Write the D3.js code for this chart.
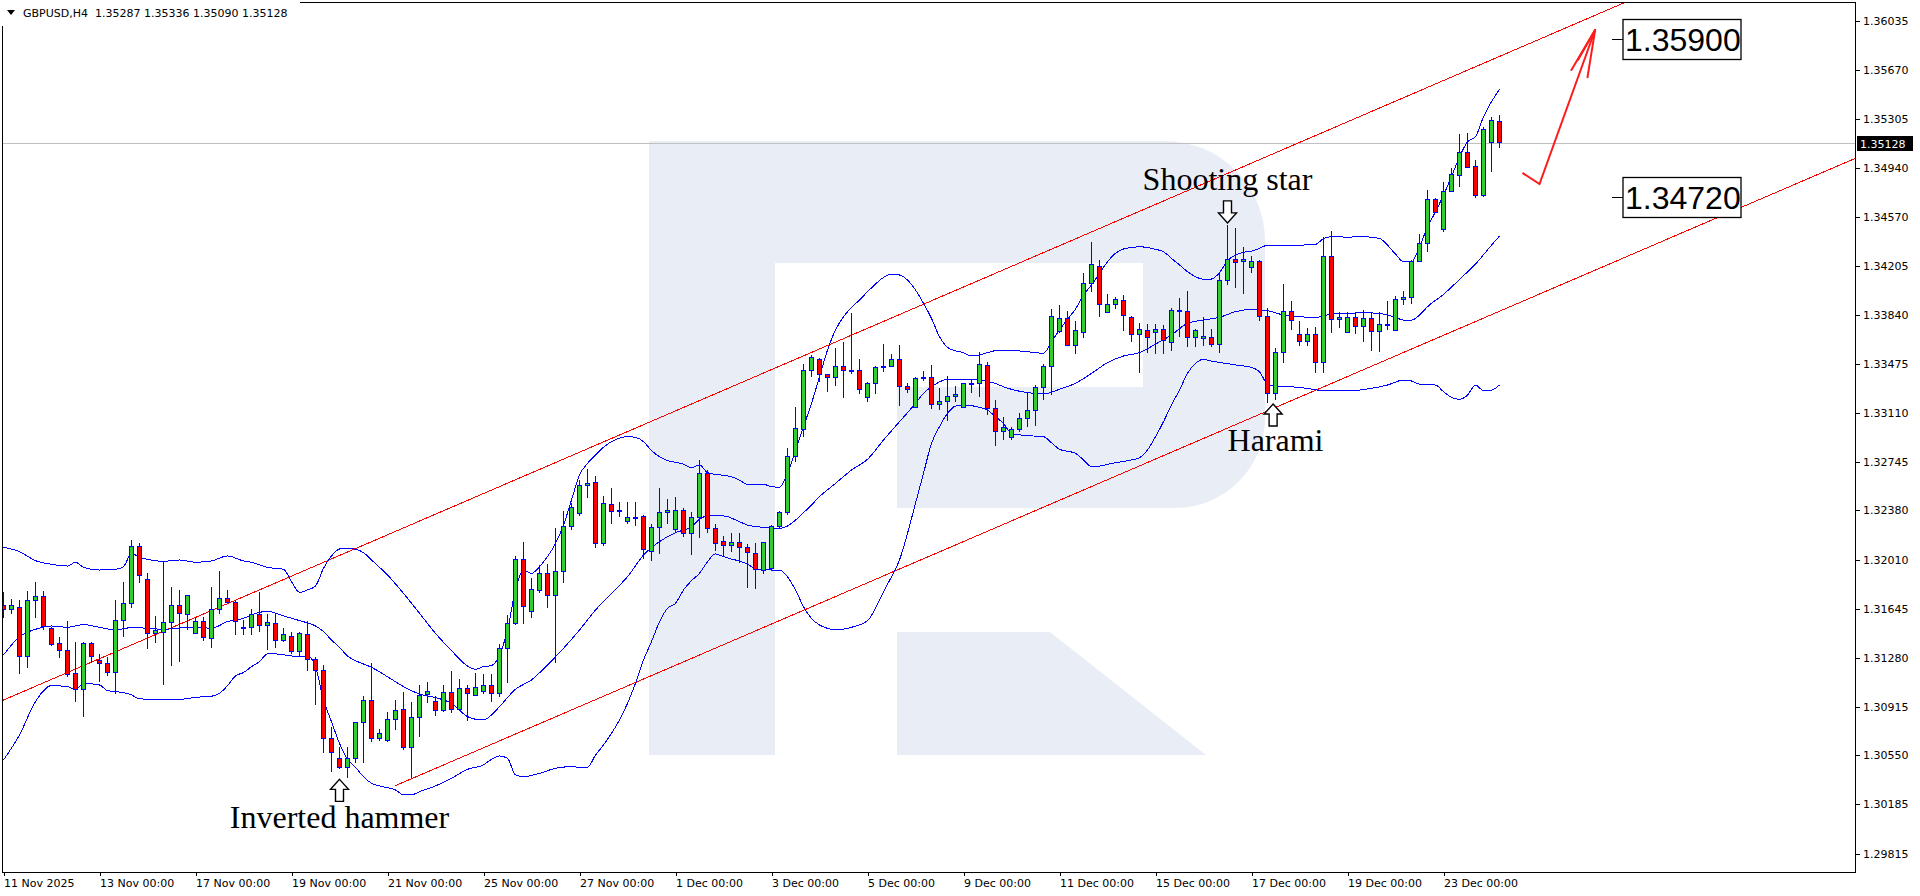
<!DOCTYPE html>
<html><head><meta charset="utf-8">
<script src="https://cdn.jsdelivr.net/npm/d3@7"></script>
<style>
html,body{margin:0;padding:0;background:#fff;overflow:hidden}
svg{display:block}
</style></head><body>
<svg id="chart" width="1920" height="896"></svg>
<script>
// ---------------- DATA ----------------
const symbol = "GBPUSD,H4";
const opens = [1.31667,1.31642,1.31657,1.31291,1.31709,1.31739,1.31495,1.31388,1.31335,1.31164,
1.31042,1.31388,1.31256,1.31238,1.31171,1.31560,1.31686,1.32112,1.31866,1.31462,
1.31470,1.31545,1.31672,1.31604,1.31462,1.31552,1.31425,1.31642,1.31724,1.31696,
1.31507,1.31507,1.31604,1.31519,1.31537,1.31412,1.31437,1.31330,1.31455,1.31268,
1.31188,1.30678,1.30528,1.30461,1.30528,1.30795,1.30957,1.30678,1.30658,1.30820,
1.30894,1.30611,1.30835,1.31006,1.30954,1.30882,1.31021,1.30894,1.31051,1.31001,
1.31026,1.31076,1.31014,1.31350,1.31537,1.32010,1.31624,1.31781,1.31910,1.31741,
1.31923,1.32259,1.32358,1.32568,1.32590,1.32134,1.32426,1.32381,1.32299,1.32329,
1.32334,1.32077,1.32251,1.32366,1.32234,1.32376,1.32209,1.32329,1.32657,1.32246,
1.32147,1.32119,1.32139,1.32105,1.32059,1.31935,1.31947,1.32259,1.32363,1.32782,
1.32986,1.33429,1.33504,1.33397,1.33374,1.33454,1.33429,1.33429,1.33225,1.33329,
1.33449,1.33459,1.33504,1.33309,1.33150,1.33364,1.33374,1.33168,1.33197,1.33230,
1.33150,1.33324,1.33329,1.33461,1.33143,1.32973,1.32926,1.32986,1.33068,1.33130,
1.33300,1.33459,1.33716,1.33815,1.33611,1.33711,1.34077,1.34201,1.33860,1.33922,
1.33952,1.33823,1.33696,1.33728,1.33713,1.33735,1.33636,1.33865,1.33870,1.33673,
1.33661,1.33673,1.33621,1.34101,1.34256,1.34238,1.34196,1.34238,1.33827,1.33254,
1.33558,1.33869,1.33695,1.33645,1.33695,1.33486,1.34280,1.33807,1.33710,1.33822,
1.33757,1.33815,1.33720,1.33762,1.33727,1.33957,1.33972,1.34238,1.34375,1.34704,
1.34479,1.34766,1.34885,1.35055,1.34948,1.34736,1.35129,1.35287];
const highs = [1.31774,1.31716,1.31711,1.31781,1.31846,1.31776,1.31512,1.31433,1.31555,1.31395,
1.31395,1.31395,1.31306,1.31288,1.31711,1.31846,1.32160,1.32140,1.31911,1.31589,
1.31998,1.31809,1.31786,1.31750,1.31582,1.31587,1.31809,1.31928,1.31786,1.31711,
1.31560,1.31644,1.31773,1.31604,1.31604,1.31499,1.31475,1.31475,1.31557,1.31288,
1.31226,1.30760,1.30615,1.30615,1.30802,1.30996,1.31243,1.30745,1.30874,1.30964,
1.31026,1.30952,1.31076,1.31096,1.30994,1.31079,1.31183,1.31123,1.31076,1.31163,
1.31158,1.31158,1.31382,1.31599,1.32040,1.32147,1.31873,1.31973,1.31980,1.32246,
1.32378,1.32438,1.32607,1.32687,1.32637,1.32488,1.32545,1.32446,1.32446,1.32446,
1.32346,1.32276,1.32545,1.32466,1.32483,1.32396,1.32371,1.32757,1.32682,1.32276,
1.32189,1.32214,1.32214,1.32129,1.32134,1.32147,1.32271,1.32378,1.32844,1.33155,
1.33471,1.33541,1.33516,1.33399,1.33596,1.33641,1.33852,1.33509,1.33337,1.33459,
1.33623,1.33549,1.33616,1.33334,1.33379,1.33424,1.33466,1.33292,1.33384,1.33309,
1.33334,1.33364,1.33566,1.33491,1.33205,1.33080,1.33006,1.33105,1.33267,1.33317,
1.33472,1.33885,1.33915,1.33872,1.33798,1.34156,1.34383,1.34251,1.33994,1.33977,
1.33989,1.33833,1.33778,1.33773,1.33770,1.33765,1.33890,1.33965,1.34019,1.33733,
1.33823,1.33733,1.34156,1.34512,1.34490,1.34350,1.34281,1.34250,1.33889,1.33591,
1.34071,1.33944,1.33795,1.33740,1.33747,1.34420,1.34467,1.33864,1.33864,1.33864,
1.33877,1.33864,1.33864,1.33944,1.33984,1.34019,1.34250,1.34445,1.34773,1.34711,
1.34836,1.34935,1.35189,1.35197,1.34997,1.35246,1.35321,1.35336];
const lows = [1.31574,1.31604,1.31159,1.31206,1.31579,1.31485,1.31368,1.31281,1.31139,1.30952,
1.30840,1.31238,1.31099,1.31146,1.31007,1.31433,1.31654,1.31841,1.31348,1.31388,
1.31074,1.31221,1.31251,1.31487,1.31462,1.31405,1.31355,1.31607,1.31686,1.31447,
1.31447,1.31447,1.31475,1.31338,1.31350,1.31400,1.31308,1.31288,1.31183,1.30927,
1.30566,1.30429,1.30446,1.30379,1.30491,1.30491,1.30653,1.30660,1.30650,1.30740,
1.30591,1.30379,1.30690,1.30939,1.30847,1.30877,1.30869,1.30889,1.30807,1.30996,
1.31009,1.30952,1.30984,1.31089,1.31524,1.31529,1.31574,1.31761,1.31649,1.31238,
1.31841,1.32234,1.32339,1.32471,1.32097,1.32114,1.32279,1.32334,1.32279,1.32264,
1.32015,1.32005,1.32052,1.32279,1.32222,1.32184,1.32047,1.32172,1.32209,1.32080,
1.32035,1.32072,1.31990,1.31803,1.31791,1.31905,1.31935,1.32239,1.32346,1.32744,
1.32926,1.33379,1.33342,1.33267,1.33312,1.33217,1.33399,1.33247,1.33192,1.33247,
1.33417,1.33454,1.33160,1.33260,1.33150,1.33347,1.33138,1.33130,1.33051,1.33187,
1.33148,1.33260,1.33230,1.33093,1.32864,1.32906,1.32906,1.32969,1.33006,1.33013,
1.33205,1.33242,1.33703,1.33605,1.33546,1.33671,1.34014,1.33823,1.33857,1.33882,
1.33723,1.33641,1.33409,1.33559,1.33546,1.33546,1.33574,1.33673,1.33599,1.33599,
1.33611,1.33603,1.33554,1.34064,1.34039,1.33994,1.34156,1.33797,1.33180,1.33205,
1.33483,1.33727,1.33610,1.33610,1.33404,1.33404,1.33703,1.33745,1.33703,1.33695,
1.33635,1.33573,1.33566,1.33727,1.33723,1.33914,1.33922,1.34238,1.34313,1.34599,
1.34462,1.34756,1.34798,1.34943,1.34711,1.34723,1.34910,1.35090];
const closes = [1.31642,1.31667,1.31291,1.31709,1.31739,1.31515,1.31378,1.31335,1.31156,1.31042,
1.31388,1.31291,1.31238,1.31171,1.31560,1.31686,1.32112,1.31896,1.31462,1.31480,
1.31545,1.31672,1.31612,1.31746,1.31552,1.31433,1.31642,1.31724,1.31694,1.31552,
1.31500,1.31604,1.31519,1.31544,1.31412,1.31455,1.31330,1.31462,1.31268,1.31188,
1.30678,1.30573,1.30461,1.30528,1.30795,1.30957,1.30678,1.30715,1.30820,1.30889,
1.30611,1.30835,1.31001,1.31029,1.30889,1.31021,1.30894,1.31051,1.31009,1.31059,
1.31076,1.31014,1.31350,1.31537,1.32010,1.31666,1.31786,1.31910,1.31741,1.31923,
1.32259,1.32403,1.32570,1.32583,1.32134,1.32433,1.32371,1.32373,1.32329,1.32331,
1.32085,1.32251,1.32366,1.32376,1.32376,1.32209,1.32329,1.32657,1.32246,1.32134,
1.32119,1.32139,1.32105,1.32067,1.31940,1.32139,1.32259,1.32363,1.32782,1.32993,
1.33429,1.33524,1.33399,1.33374,1.33454,1.33422,1.33419,1.33280,1.33329,1.33449,
1.33459,1.33509,1.33309,1.33280,1.33367,1.33372,1.33175,1.33192,1.33230,1.33247,
1.33329,1.33329,1.33471,1.33143,1.32973,1.33001,1.32986,1.33068,1.33125,1.33300,
1.33459,1.33828,1.33815,1.33611,1.33721,1.34077,1.34214,1.33922,1.33922,1.33957,
1.33833,1.33698,1.33733,1.33673,1.33733,1.33646,1.33877,1.33877,1.33673,1.33728,
1.33683,1.33621,1.34101,1.34256,1.34234,1.34256,1.34243,1.33827,1.33254,1.33558,
1.33869,1.33797,1.33645,1.33695,1.33486,1.34280,1.33807,1.33825,1.33825,1.33757,
1.33815,1.33720,1.33770,1.33770,1.33957,1.33972,1.34238,1.34375,1.34704,1.34606,
1.34766,1.34890,1.35055,1.34943,1.34736,1.35226,1.35291,1.35128];

const xTickBars = [0,12,24,36,48,60,72,84,96,108,120,132,144,156,168,180];
const xTickLabels = ["11 Nov 2025","13 Nov 00:00","17 Nov 00:00","19 Nov 00:00","21 Nov 00:00","25 Nov 00:00",
"27 Nov 00:00","1 Dec 00:00","3 Dec 00:00","5 Dec 00:00","9 Dec 00:00","11 Dec 00:00","15 Dec 00:00",
"17 Dec 00:00","19 Dec 00:00","23 Dec 00:00"];
const yTickValues = [1.36035,1.35670,1.35305,1.34940,1.34570,1.34205,1.33840,1.33475,1.33110,
1.32745,1.32380,1.32010,1.31645,1.31280,1.30915,1.30550,1.30185,1.29815];

// Bollinger bands: [bar, price]
const bbUpper = [[0,1.32105],[2,1.32072],[4,1.32005],[6,1.31978],[8,1.31965],[9,1.31993],[10,1.31955],[12,1.31935],
[14,1.31940],[15,1.31960],[16,1.32060],[17,1.32030],[18,1.32015],[20,1.32000],[22,1.32010],[24,1.31993],[26,1.32003],
[28,1.32040],[30,1.32003],[31,1.31993],[33,1.31955],[35,1.31940],[36,1.31848],[37,1.31768],[38,1.31786],[39,1.31816],
[40,1.31948],[41,1.32040],[42,1.32092],[43,1.32097],[44,1.32090],[45,1.32065],[46,1.32010],[48,1.31898],[50,1.31761],
[52,1.31612],[54,1.31462],[56,1.31333],[58,1.31218],[59,1.31193],[60,1.31213],[61,1.31221],[62,1.31300],[63,1.31487],
[64,1.31786],[65,1.31935],[66,1.31910],[67,1.31960],[68,1.32035],[69,1.32134],[70,1.32271],[71,1.32458],[72,1.32645],
[73,1.32732],[74,1.32794],[75,1.32852],[76,1.32894],[77,1.32921],[78,1.32931],[79,1.32926],[80,1.32894],[81,1.32827],
[82,1.32782],[83,1.32752],[84,1.32740],[85,1.32725],[86,1.32700],[87,1.32720],[88,1.32662],[89,1.32650],[90,1.32642],
[91,1.32632],[92,1.32607],[93,1.32575],[95,1.32575],[96,1.32558],[97,1.32553],[98,1.32657],[99,1.32831],[100,1.33006],
[101,1.33180],[102,1.33379],[103,1.33578],[104,1.33728],[105,1.33827],[106,1.33897],[107,1.33952],[108,1.34014],
[109,1.34071],[110,1.34121],[111,1.34144],[112,1.34139],[113,1.34101],[114,1.34027],[115,1.33927],[116,1.33815],
[117,1.33678],[118,1.33598],[119,1.33573],[120,1.33559],[121,1.33534],[122,1.33541],[123,1.33559],[124,1.33573],
[125,1.33573],[126,1.33574],[128,1.33566],[130,1.33554],[131,1.33641],[132,1.33728],[133,1.33808],[134,1.33885],
[135,1.33989],[136,1.34064],[137,1.34151],[138,1.34238],[139,1.34301],[140,1.34333],[142,1.34350],[144,1.34331],
[145,1.34313],[146,1.34263],[147,1.34214],[148,1.34164],[149,1.34126],[150,1.34107],[151,1.34109],[152,1.34156],
[153,1.34246],[154,1.34288],[155,1.34308],[156,1.34318],[157,1.34338],[158,1.34362],[160,1.34357],[162,1.34362],
[164,1.34367],[165,1.34412],[166,1.34425],[168,1.34422],[170,1.34425],[172,1.34412],[173,1.34362],[174,1.34295],
[175,1.34238],[176,1.34238],[177,1.34350],[178,1.34499],[179,1.34611],[180,1.34736],[181,1.34873],[182,1.35022],
[183,1.35134],[184,1.35172],[185,1.35321],[186,1.35433],[187,1.35525]];
const bbMiddle = [[0,1.31301],[2,1.31437],[4,1.31492],[6,1.31517],[8,1.31507],[10,1.31527],[12,1.31507],[14,1.31487],
[16,1.31505],[18,1.31500],[20,1.31492],[22,1.31502],[24,1.31507],[26,1.31500],[28,1.31550],[30,1.31574],[31,1.31600],
[33,1.31626],[35,1.31592],[37,1.31557],[39,1.31517],[40,1.31475],[41,1.31412],[42,1.31358],[43,1.31293],[44,1.31258],
[46,1.31208],[48,1.31138],[50,1.31064],[52,1.31009],[54,1.30982],[56,1.30939],[58,1.30840],[59,1.30820],[60,1.30815],
[61,1.30852],[62,1.30914],[64,1.31044],[66,1.31114],[68,1.31226],[70,1.31350],[72,1.31487],[74,1.31636],[76,1.31761],
[78,1.31885],[80,1.32047],[82,1.32147],[84,1.32214],[86,1.32259],[87,1.32314],[88,1.32339],[90,1.32339],[92,1.32296],
[93,1.32271],[95,1.32254],[97,1.32246],[98,1.32264],[99,1.32308],[100,1.32363],[101,1.32421],[102,1.32483],
[104,1.32582],[106,1.32682],[108,1.32762],[110,1.32906],[112,1.33043],[114,1.33180],[115,1.33255],[116,1.33304],
[118,1.33359],[120,1.33362],[122,1.33354],[124,1.33329],[125,1.33304],[126,1.33285],[128,1.33260],[130,1.33250],
[132,1.33285],[134,1.33330],[136,1.33404],[138,1.33484],[140,1.33534],[142,1.33559],[144,1.33623],[146,1.33691],
[148,1.33778],[150,1.33803],[152,1.33823],[154,1.33865],[156,1.33882],[158,1.33872],[160,1.33840],[162,1.33827],
[164,1.33822],[166,1.33847],[168,1.33852],[170,1.33857],[172,1.33852],[174,1.33822],[175,1.33802],[176,1.33802],
[177,1.33840],[178,1.33902],[180,1.33994],[182,1.34106],[184,1.34221],[186,1.34362],[187,1.34430]];
const bbLower = [[0,1.30516],[2,1.30703],[4,1.30952],[6,1.31071],[8,1.31064],[9,1.31039],[10,1.31089],[12,1.31076],
[13,1.31034],[14,1.31027],[16,1.31002],[17,1.30972],[20,1.30969],[22,1.30969],[24,1.30984],[26,1.30992],[27,1.31014],
[28,1.31071],[29,1.31144],[30,1.31169],[31,1.31213],[32,1.31250],[33,1.31308],[34,1.31308],[36,1.31293],[37,1.31288],
[38,1.31293],[39,1.31213],[40,1.30964],[41,1.30802],[42,1.30640],[43,1.30521],[44,1.30461],[45,1.30391],[46,1.30342],
[47,1.30322],[48,1.30309],[49,1.30292],[50,1.30255],[51,1.30255],[52,1.30279],[54,1.30322],[56,1.30379],[58,1.30446],
[60,1.30479],[61,1.30521],[62,1.30546],[63,1.30528],[64,1.30404],[65,1.30391],[67,1.30416],[69,1.30454],[71,1.30466],
[72,1.30461],[73,1.30461],[74,1.30553],[75,1.30628],[76,1.30715],[77,1.30815],[78,1.30939],[79,1.31089],[80,1.31263],
[81,1.31400],[82,1.31549],[83,1.31649],[84,1.31686],[85,1.31786],[86,1.31856],[87,1.31910],[88,1.31997],[89,1.32055],
[90,1.32035],[91,1.32017],[92,1.32002],[93,1.31980],[94,1.31943],[96,1.31935],[97,1.31935],[98,1.31885],[99,1.31786],
[100,1.31661],[101,1.31574],[102,1.31524],[103,1.31499],[104,1.31487],[106,1.31507],[108,1.31556],[109,1.31649],
[110,1.31773],[111,1.31885],[112,1.32010],[113,1.32209],[114,1.32433],[115,1.32657],[116,1.32881],[117,1.33006],
[118,1.33105],[119,1.33160],[120,1.33168],[121,1.33163],[122,1.33150],[123,1.33130],[124,1.33080],[125,1.33030],
[126,1.32956],[128,1.32939],[130,1.32931],[131,1.32886],[132,1.32837],[134,1.32807],[135,1.32757],[136,1.32707],
[137,1.32712],[139,1.32737],[141,1.32757],[142,1.32774],[143,1.32832],[144,1.32931],[145,1.33043],[146,1.33168],
[147,1.33280],[148,1.33404],[149,1.33479],[150,1.33509],[151,1.33496],[152,1.33486],[154,1.33467],[156,1.33449],
[157,1.33416],[158,1.33324],[159,1.33309],[161,1.33304],[163,1.33292],[165,1.33274],[168,1.33274],[171,1.33292],
[173,1.33317],[175,1.33354],[176,1.33347],[177,1.33324],[179,1.33317],[180,1.33267],[181,1.33225],[182,1.33210],
[183,1.33242],[184,1.33317],[185,1.33274],[186,1.33279],[187,1.33317]];

const channelUpper = [[-0.5,1.30951],[202.6,1.36173]];
const channelLower = [[48.9,1.30322],[231.5,1.35011]];
const targetLevels = [1.35900,1.34720];
const forecastPath = [[189.96,1.34898],[192.0,1.34819],[198.95,1.35969]];
const forecastHead = [[195.99,1.35670],[198.0,1.35616],[196.8,1.35746]];
const patternNames = ["Inverted hammer","Shooting star","Harami"];
const patternBars = [42,153,158.7];
const patternArrowPrices = [1.30371,1.34528,1.33175];
const patternArrowDirs = ["up","down","up"];
const patternTextBars = [42,153,159.0];
const patternTextPrices = [1.30008,1.34774,1.32827];

// ---------------- DRAW ----------------
const W = 1920, H = 896;
const plot = {l:2, t:2, r:1856, b:872};
const svg = d3.select("#chart");
const n = closes.length;
const x = d3.scaleLinear().domain([0, n-1]).range([3.5, 3.5 + 8*(n-1)]);
const y = d3.scaleLinear().domain([1.36035, 1.29815]).range([21.2, 853.8]);

svg.append("rect").attr("width",W).attr("height",H).attr("fill","#fff");

svg.append("defs").append("clipPath").attr("id","plotclip")
  .append("rect").attr("x",plot.l).attr("y",plot.t).attr("width",plot.r-plot.l).attr("height",plot.b-plot.t);

const g = svg.append("g").attr("clip-path","url(#plotclip)");

// watermark logo
const wm = "#e9edf5";
g.append("path").attr("fill",wm)
  .attr("d","M649,141 H1165 A100,100 0 0 1 1265,241 V418 A90,90 0 0 1 1175,508 H897 V387 H1143 V263 H775 V755 H649 Z");
g.append("path").attr("fill",wm).attr("d","M897,632 H1050 L1206,755 H897 Z");

// current price line
const last = n-1;
g.append("line").attr("x1",plot.l).attr("x2",plot.r)
  .attr("y1",Math.round(y(closes[last]))+0.5).attr("y2",Math.round(y(closes[last]))+0.5)
  .attr("stroke","#c0c0c0").attr("stroke-width",1);

// channel lines
const lineXY = d3.line().x(d=>x(d[0])).y(d=>y(d[1]));
[channelUpper, channelLower].forEach(c=>{
  g.append("path").attr("d",lineXY(c)).attr("fill","none").attr("stroke","#ff0000")
    .attr("stroke-width",1).attr("shape-rendering","crispEdges");
});

// bollinger bands
const bandLine = d3.line().x(d=>x(d[0])).y(d=>y(d[1])).curve(d3.curveMonotoneX);
[bbUpper, bbMiddle, bbLower].forEach(b=>{
  g.append("path").attr("d",bandLine(b)).attr("fill","none").attr("stroke","#0000ff")
    .attr("stroke-width",1).attr("shape-rendering","crispEdges");
});

// candles
const idx = d3.range(n);
const cg = g.append("g").attr("shape-rendering","crispEdges");
cg.selectAll("line.wick").data(idx).join("line").attr("class","wick")
  .attr("x1",i=>x(i)).attr("x2",i=>x(i))
  .attr("y1",i=>y(highs[i])).attr("y2",i=>y(lows[i]))
  .attr("stroke","#0000ff").attr("stroke-width",1);
cg.selectAll("rect.body").data(idx).join("rect").attr("class","body")
  .attr("x",i=>x(i)-2).attr("width",4)
  .attr("y",i=>y(Math.max(opens[i],closes[i])))
  .attr("height",i=>Math.max(1, Math.abs(y(opens[i])-y(closes[i]))))
  .attr("fill",i=>closes[i]>opens[i] ? "#32cd32" : (closes[i]<opens[i] ? "#ff0000" : "#0000ff"))
  .attr("stroke","#0000ff").attr("stroke-width",1);

// forecast arrow
const fa = g.append("g").attr("stroke","#ff1a1a").attr("fill","none").attr("stroke-width",2).attr("stroke-linecap","round");
fa.append("path").attr("d",lineXY(forecastPath));
const tip = forecastPath[forecastPath.length-1];
forecastHead.forEach(h=>{ fa.append("path").attr("d",lineXY([h, tip])); });

// target level boxes
targetLevels.forEach(v=>{
  const yy = Math.round(y(v))+0.5;
  svg.append("line").attr("x1",1612).attr("x2",1623).attr("y1",yy).attr("y2",yy).attr("stroke","#000").attr("stroke-width",1);
  svg.append("rect").attr("x",1623).attr("y",yy-20).attr("width",118).attr("height",40)
    .attr("fill","#fff").attr("stroke","#000").attr("stroke-width",1.3);
  svg.append("text").attr("x",1625).attr("y",yy+11.5).text(v.toFixed(5))
    .attr("font-family","'Liberation Sans', Arial, sans-serif").attr("font-size",32).attr("fill","#000");
});

// pattern annotations
patternNames.forEach((name,k)=>{
  const cx = x(patternBars[k]);
  const ty = y(patternArrowPrices[k]);
  let pts;
  if (patternArrowDirs[k]==="up") {
    pts = [[cx,ty],[cx+9,ty+10],[cx+4,ty+10],[cx+4,ty+22],[cx-4,ty+22],[cx-4,ty+10],[cx-9,ty+10]];
  } else {
    pts = [[cx,ty],[cx+9,ty-10],[cx+4,ty-10],[cx+4,ty-22],[cx-4,ty-22],[cx-4,ty-10],[cx-9,ty-10]];
  }
  svg.append("path").attr("d","M"+pts.map(p=>p.join(",")).join("L")+"Z")
    .attr("fill","#fff").attr("stroke","#000").attr("stroke-width",1.4).attr("stroke-linejoin","miter");
  svg.append("text").attr("x",x(patternTextBars[k])).attr("y",y(patternTextPrices[k]))
    .attr("text-anchor","middle").text(name)
    .attr("font-family","'Liberation Serif', 'Times New Roman', serif").attr("font-size",32).attr("fill","#000");
});

// frame
svg.append("rect").attr("x",2.5).attr("y",2.5).attr("width",1853).attr("height",869.5)
  .attr("fill","none").attr("stroke","#000").attr("stroke-width",1).attr("shape-rendering","crispEdges");

// right axis
const yAxis = d3.axisRight(y).tickValues(yTickValues).tickFormat(d3.format(".5f")).tickSize(4).tickPadding(3);
svg.append("g").attr("transform","translate(1856,0)").call(yAxis)
  .call(a=>a.select(".domain").remove())
  .call(a=>a.selectAll("line").attr("stroke","#000").attr("shape-rendering","crispEdges"))
  .call(a=>a.selectAll("text").attr("font-family","'DejaVu Sans', Verdana, sans-serif").attr("font-size",11).attr("fill","#000"));

// bottom axis
const xAxis = d3.axisBottom(x).tickValues(xTickBars).tickFormat((d,i)=>xTickLabels[i]).tickSize(4).tickPadding(3);
svg.append("g").attr("transform","translate(0,872)").call(xAxis)
  .call(a=>a.select(".domain").remove())
  .call(a=>a.selectAll("line").attr("stroke","#000").attr("shape-rendering","crispEdges"))
  .call(a=>a.selectAll("text").attr("text-anchor","start").attr("x",0)
     .attr("font-family","'DejaVu Sans', Verdana, sans-serif").attr("font-size",11).attr("fill","#000"));

// current price label
const ly = Math.round(y(closes[last]))+0.5;
svg.append("rect").attr("x",1857).attr("y",ly-7.5).attr("width",56).attr("height",15).attr("fill","#000");
svg.append("text").attr("x",1860).attr("y",ly+4).text(closes[last].toFixed(5))
  .attr("font-family","'DejaVu Sans', Verdana, sans-serif").attr("font-size",11).attr("fill","#fff");

// header
svg.append("rect").attr("x",0).attr("y",0).attr("width",300).attr("height",26).attr("fill","#fff");
svg.append("path").attr("d","M7,10 L15,10 L11,15 Z").attr("fill","#000");
const fmt = d3.format(".5f");
svg.append("text").attr("x",23).attr("y",17).style("white-space","pre")
  .text(`${symbol}  ${fmt(opens[last])} ${fmt(highs[last])} ${fmt(lows[last])} ${fmt(closes[last])}`)
  .attr("font-family","'DejaVu Sans', Verdana, sans-serif").attr("font-size",11).attr("fill","#000");
</script>
</body></html>
